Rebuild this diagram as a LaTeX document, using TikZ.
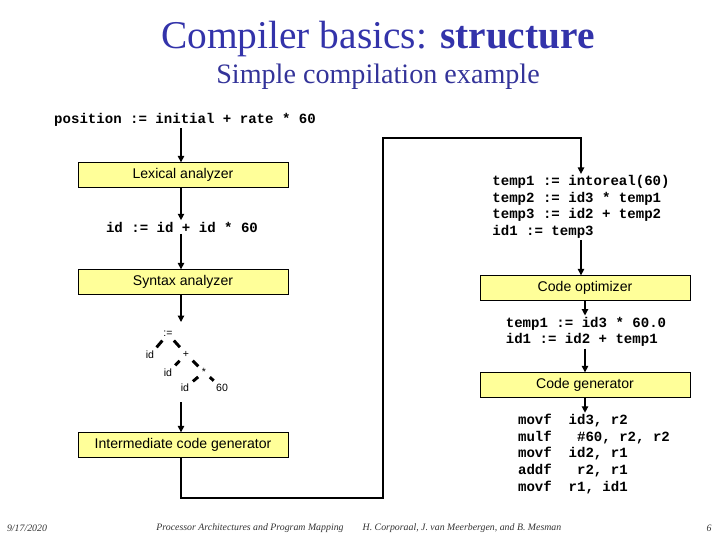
\documentclass[tikz,border=0pt]{standalone}
\usepackage{fontspec}
\setmainfont{Liberation Serif}
\setsansfont{Liberation Sans}
\setmonofont{Liberation Mono}
\usepackage{xcolor}
\usetikzlibrary{
    positioning,
    arrows.meta,
    calc,
}
\definecolor{titleblue}{HTML}{3333AA}
\definecolor{subblue}{HTML}{333399}
\definecolor{boxfill}{HTML}{FFFF99}
\tikzset{
    % Node styles
    phase/.style={rectangle, draw, fill=boxfill, minimum width=5.25cm,
                  minimum height=0.62cm, inner sep=0pt, font=\sffamily\fontsize{10}{12}\selectfont},
    code/.style={font=\ttfamily\bfseries\fontsize{10}{11.8}\selectfont, align=left, inner sep=1pt},
    treenode/.style={font=\sffamily\fontsize{7.5}{9}\selectfont, inner sep=1.5pt},
    footer/.style={font=\itshape\fontsize{7}{8}\selectfont, text=black!80},
    % Arrow styles
    arrow/.style={-{Triangle[length=1.6mm, width=1.6mm]}, line width=0.9pt},
    tree edge/.style={line width=2.1pt, shorten <=1.3pt, shorten >=1.3pt},
}

\begin{document}
\begin{tikzpicture}[x=0.025cm, y=-0.025cm]
    \useasboundingbox (0,0) rectangle (720,540);

    % Titles
    \node[text=titleblue, font=\fontsize{28}{32}\selectfont] (title) at (378,39) {Compiler basics: \textbf{structure}};
    \node[text=subblue, font=\fontsize{20}{24}\selectfont] (subtitle) at (378,77) {Simple compilation example};

    % Left column
    \node[code] (src) at (185,120) {position := initial + rate * 60};
    \node[phase] (lex) at (183,175) {Lexical analyzer};
    \node[code] (tok) at (182,227) {id := id + id * 60};
    \node[phase] (syn) at (183,282) {Syntax analyzer};
    \node[phase] (icg) at (183,445) {Intermediate code generator};

    % Syntax tree
    \node[treenode] (asg) at (168,334) {:=};
    \node[treenode] (idA) at (150,355) {id};
    \node[treenode] (plus) at (186,354) {+};
    \node[treenode] (idB) at (168,373) {id};
    \node[treenode] (star) at (204,372) {*};
    \node[treenode] (idC) at (185,388) {id};
    \node[treenode] (sixty) at (222,388) {60};
    \draw[tree edge] (asg) -- (idA);
    \draw[tree edge] (asg) -- (plus);
    \draw[tree edge] (plus) -- (idB);
    \draw[tree edge] (plus) -- (star);
    \draw[tree edge] (star) -- (idC);
    \draw[tree edge] (star) -- (sixty);
    \coordinate (treein) at (181,322);
    \coordinate (treeout) at (181,402);

    % Right column
    \node[code] (temps) at (581,207) {temp1 := intoreal(60)\\temp2 := id3 * temp1\\temp3 := id2 + temp2\\id1 := temp3};
    \node[phase] (opt) at (585,288) {Code optimizer};
    \node[code] (opt2) at (586,332) {temp1 := id3 * 60.0\\id1 := id2 + temp1};
    \node[phase] (gen) at (585,385) {Code generator};
    \node[code] (asm) at (594,454) {movf\ \ id3, r2\\mulf\ \ \ \#60, r2, r2\\movf\ \ id2, r1\\addf\ \ \ r2, r1\\movf\ \ r1, id1};

    % Footer
    \node[footer] (date) at (27,528) {9/17/2020};
    \node[footer] (course) at (250,528) {Processor Architectures and Program Mapping};
    \node[footer] (authors) at (462,528) {H. Corporaal, J. van Meerbergen, and B. Mesman};
    \node[footer] (page) at (709,528) {6};

    % Arrows
    \coordinate (loopB) at (383,498);
    \coordinate (loopT) at (383,138);
    \draw[arrow] (src.south -| treein) -- (treein |- lex.north);
    \draw[arrow] (treein |- lex.south) -- (treein |- tok.north);
    \draw[arrow] (treein |- tok.south) -- (treein |- syn.north);
    \draw[arrow] (treein |- syn.south) -- (treein);
    \draw[arrow] (treeout) -- (treeout |- icg.north);
    \draw[arrow] (treeout |- icg.south) |- (loopB) -- (loopT) -| (temps.north);
    \draw[arrow] (temps.south) -- (temps.south |- opt.north);
    \draw[arrow] (opt.south) -- (opt.south |- opt2.north);
    \draw[arrow] (opt2.south -| gen.north) -- (gen.north);
    \draw[arrow] (gen.south) -- (gen.south |- asm.north);
\end{tikzpicture}
\end{document}
